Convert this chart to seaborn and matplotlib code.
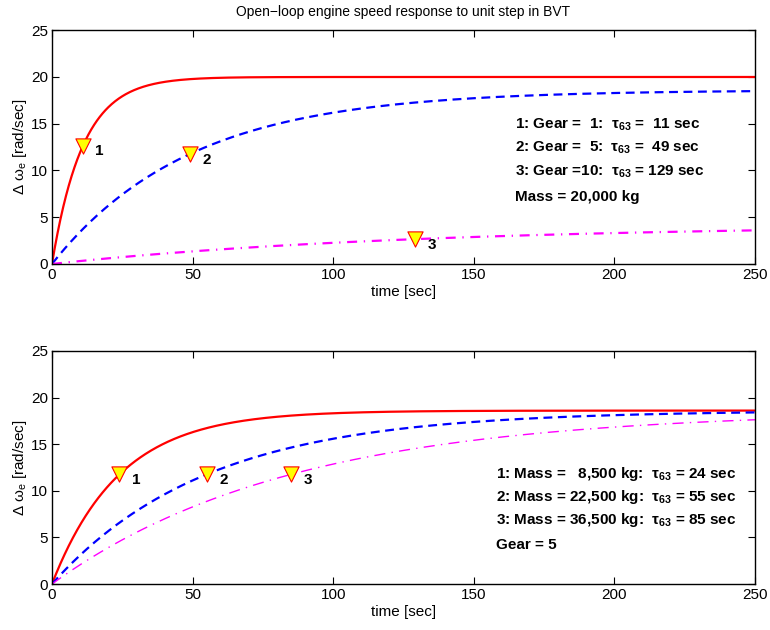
import numpy as np
import pandas as pd
import matplotlib
matplotlib.use("Agg")
import matplotlib.pyplot as plt
import seaborn as sns

# First-order open-loop responses: steady-state gain [rad/sec] and 63% time constant [sec]
gear_labels = ["1", "2", "3"]
gear_gain = [20.0, 18.6, 4.2]
gear_tau = [11, 49, 129]
gear_text = [
    "1: Gear =  1:  τ$_{\\mathbf{63}}$ =  11 sec",
    "2: Gear =  5:  τ$_{\\mathbf{63}}$ =  49 sec",
    "3: Gear =10:  τ$_{\\mathbf{63}}$ = 129 sec",
    "Mass = 20,000 kg",
]

mass_labels = ["1", "2", "3"]
mass_gain = [18.6, 18.6, 18.6]
mass_tau = [24, 55, 85]
mass_text = [
    "1: Mass =   8,500 kg:  τ$_{\\mathbf{63}}$ = 24 sec",
    "2: Mass = 22,500 kg:  τ$_{\\mathbf{63}}$ = 55 sec",
    "3: Mass = 36,500 kg:  τ$_{\\mathbf{63}}$ = 85 sec",
    "Gear = 5",
]

t_end = 250
x_ticks = [0, 50, 100, 150, 200, 250]
y_ticks = [0, 5, 10, 15, 20, 25]

sns.set_style("ticks")
plt.rcParams["font.family"] = ["Liberation Sans", "DejaVu Sans"]
plt.rcParams["mathtext.fontset"] = "custom"
plt.rcParams["mathtext.rm"] = "Liberation Sans"
plt.rcParams["mathtext.it"] = "Liberation Sans:italic"
plt.rcParams["mathtext.bf"] = "Liberation Sans:bold"
for key in ["text.color", "axes.labelcolor", "xtick.color", "ytick.color",
            "axes.edgecolor"]:
    plt.rcParams[key] = "black"

fig = plt.figure(figsize=(7.7, 6.3), dpi=100)
ax_top = fig.add_axes([0.0675, 0.581, 0.913, 0.371])
ax_bot = fig.add_axes([0.0675, 0.073, 0.913, 0.370])

t = np.linspace(0, t_end, 1001)


def draw_panel(ax, labels, gains, taus, styles, notes, note_x, note_y):
    for lab, K, tau, (col, lw, dash) in zip(labels, gains, taus, styles):
        df = pd.DataFrame({"t": t, "y": K * (1 - np.exp(-t / tau))})
        sns.lineplot(data=df, x="t", y="y", ax=ax, color=col, linewidth=lw)
        line = ax.lines[-1]
        if dash is not None:
            line.set_dashes(dash)
        ym = K * (1 - np.exp(-1.0))
        pt = pd.DataFrame({"t": [tau], "y": [ym]})
        sns.scatterplot(data=pt, x="t", y="y", ax=ax, marker="v", s=120,
                        color="#ffff00", edgecolor="red", linewidth=0.8, zorder=5)
        ax.annotate(lab, (tau, ym), xytext=(9, -4), textcoords="offset points",
                    ha="left", va="center", fontsize=11, fontweight="bold")
    for txt, yy in zip(notes, note_y):
        ax.text(note_x, yy, txt, fontsize=11, fontweight="bold",
                ha="left", va="center")
    ax.set_xlim(0, t_end)
    ax.set_ylim(0, 25)
    ax.set_xticks(x_ticks)
    ax.set_yticks(y_ticks)
    ax.tick_params(direction="in", top=True, right=True, length=5,
                   width=0.8, labelsize=11, color="black", labelcolor="black", pad=3)
    for sp in ax.spines.values():
        sp.set_visible(True)
        sp.set_linewidth(1.0)
        sp.set_color("black")
    ax.set_xlabel("time [sec]", fontsize=11, labelpad=2)
    ax.set_ylabel("Δ ω$_{\\rm e}$ [rad/sec]", fontsize=11, labelpad=1)


top_styles = [("red", 1.6, None), ("blue", 1.6, (4, 2.5)), ("magenta", 1.6, (4.5, 3, 0.6, 3))]
bot_styles = [("red", 1.6, None), ("blue", 1.6, (4, 2.5)), ("magenta", 1.0, (8, 4.5, 1, 4.5))]

draw_panel(ax_top, gear_labels, gear_gain, gear_tau, top_styles, gear_text,
           164.5, [14.85, 12.4, 9.9, 7.2])
draw_panel(ax_bot, mass_labels, mass_gain, mass_tau, bot_styles, mass_text,
           158, [11.8, 9.33, 6.87, 4.18])

ax_top.set_title("Open\u2212loop engine speed response to unit step in BVT",
                 fontsize=10, pad=10)

fig.savefig("out.png", dpi=100, facecolor="white")
